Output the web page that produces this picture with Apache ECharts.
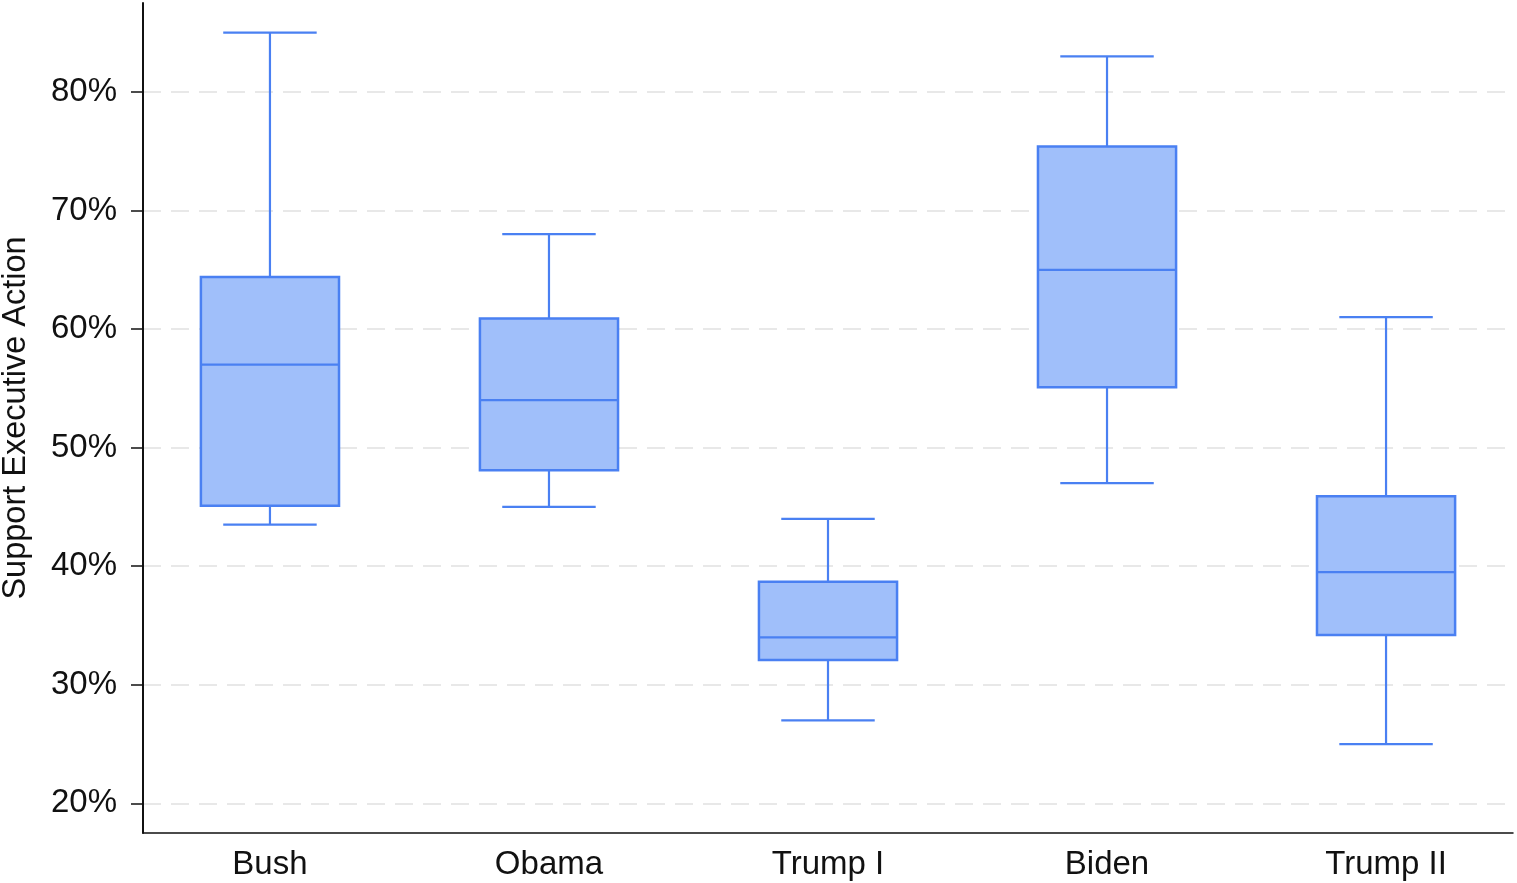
<!DOCTYPE html>
<html>
<head>
<meta charset="utf-8">
<script src="https://cdn.jsdelivr.net/npm/echarts@6/dist/echarts.min.js"></script>
<style>
  html, body { margin: 0; padding: 0; background: #fff; }
  #chart { width: 1517px; height: 883px; }
</style>
</head>
<body>
<div id="chart"></div>
<script>
const presidents = ['Bush', 'Obama', 'Trump I', 'Biden', 'Trump II']
// box stats per president, in percent
const whiskerLow = [43.5, 45, 27, 47, 25]
const q1 = [45.1, 48.1, 32.1, 55.1, 34.2]
const median = [57, 54, 34, 65, 39.5]
const q3 = [64.4, 60.9, 38.7, 75.4, 45.9]
const whiskerHigh = [85, 68, 44, 83, 61]
const yTicks = [20, 30, 40, 50, 60, 70, 80]

const blue = '#4a80f2'
const fill = '#a0bffa'
const font = '"Liberation Sans", Arial, Helvetica, sans-serif'

const boxData = presidents.map((p, i) => [i, whiskerLow[i], q1[i], median[i], q3[i], whiskerHigh[i]])

const chart = echarts.init(document.getElementById('chart'))

const renderBox = (params, api) => {
  const x = api.value(0)
  const band = api.size([1, 0])[0]
  const boxHalf = band * 0.495 / 2
  const capHalf = band * 0.335 / 2
  const lo = api.coord([x, api.value(1)])
  const b1 = api.coord([x, api.value(2)])
  const md = api.coord([x, api.value(3)])
  const b3 = api.coord([x, api.value(4)])
  const hi = api.coord([x, api.value(5)])
  const cx = lo[0]
  const line = (x1, y1, x2, y2) => ({
    type: 'line',
    shape: { x1, y1, x2, y2 },
    style: { stroke: blue, lineWidth: 2.2 }
  })
  return {
    type: 'group',
    children: [
      line(cx, b3[1], cx, hi[1]),
      line(cx, b1[1], cx, lo[1]),
      line(cx - capHalf, hi[1], cx + capHalf, hi[1]),
      line(cx - capHalf, lo[1], cx + capHalf, lo[1]),
      {
        type: 'rect',
        shape: { x: cx - boxHalf, y: b3[1], width: boxHalf * 2, height: b1[1] - b3[1] },
        style: { fill: fill, stroke: blue, lineWidth: 2.5 }
      },
      line(cx - boxHalf, md[1], cx + boxHalf, md[1])
    ]
  }
}

chart.setOption({
  animation: false,
  textStyle: { fontFamily: font },
  grid: { left: 143, right: 4, top: 3, bottom: 50, outerBoundsMode: 'none', containLabel: false },
  xAxis: {
    type: 'value',
    min: -0.455,
    max: 4.455,
    axisLine: { show: true, onZero: false, lineStyle: { color: '#111', width: 1.5 } },
    axisTick: { show: false },
    splitLine: { show: false },
    axisLabel: {
      customValues: [0, 1, 2, 3, 4],
      formatter: v => presidents[Math.round(v)] || '',
      fontSize: 33,
      color: '#111',
      margin: 15
    }
  },
  yAxis: {
    type: 'value',
    min: 17.5,
    max: 87.5,
    name: 'Support Executive Action',
    nameLocation: 'middle',
    nameGap: 110,
    nameTextStyle: { fontSize: 32.5, color: '#111' },
    axisLine: { show: true, onZero: false, lineStyle: { color: '#111', width: 2 } },
    axisTick: { show: true, length: 12, customValues: yTicks, lineStyle: { color: '#111', width: 1.5 } },
    axisLabel: {
      customValues: yTicks,
      formatter: v => v + '%',
      fontSize: 33,
      color: '#111',
      margin: 26
    },
    splitLine: { show: true, lineStyle: { color: '#e8e8e8', width: 2, type: [18, 10] } }
  },
  series: [{
    type: 'custom',
    renderItem: renderBox,
    encode: { x: 0, y: [1, 2, 3, 4, 5] },
    data: boxData
  }]
})
</script>
</body>
</html>
